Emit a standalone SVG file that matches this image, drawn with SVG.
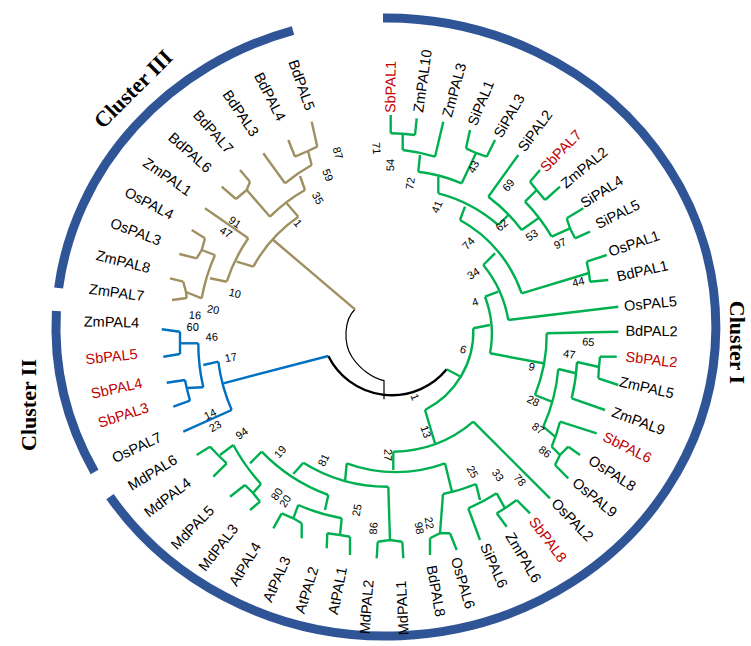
<svg xmlns="http://www.w3.org/2000/svg" width="751" height="646" viewBox="0 0 751 646">
<style>
.o{fill:none;stroke:#9e9060;stroke-width:2.4;stroke-linejoin:miter}
.b{fill:none;stroke:#0070c0;stroke-width:2.4}
.g{fill:none;stroke:#00b050;stroke-width:2.4}
.k{fill:none;stroke:#000;stroke-width:2.4}
.kt{fill:none;stroke:#000;stroke-width:1.2}
.ring{fill:none;stroke:#2f5597;stroke-width:9}
.lf{font-family:"Liberation Sans",Arial,sans-serif;font-size:14.5px;fill:#000;text-anchor:middle;dominant-baseline:central}
.r{fill:#c00000}
.bs{font-family:"Liberation Sans",Arial,sans-serif;font-size:11px;fill:#000;text-anchor:middle;dominant-baseline:central}
.cl{font-family:"Liberation Serif","Times New Roman",serif;font-size:22px;font-weight:bold;fill:#000;text-anchor:middle;dominant-baseline:central}
</style>
<rect width="751" height="646" fill="#fff"/>
<g id="rings">
<path class="ring" d="M383,18 A330 309 0 1 1 110,496.6"/>
<path class="ring" d="M56.4,311 A330 309 0 0 0 94.6,472"/>
<path class="ring" d="M58.6,288 A330 309 0 0 1 293,30.5"/>
</g>
<g id="connectors">
<path class="k" d="M328.3,356 A71 71 0 0 0 446.7,369.3"/>
<path class="kt" d="M355,309.3 C344,320 343,343 352,357 C360,369 372,378 384,380.7 L384,399.3"/>
<path class="o" d="M355,309.3 L273.3,240"/>
<path class="o" d="M298.3,216.7 A145 145 0 0 0 253.3,266.7"/>
<path class="o" d="M298.3,216.7 L286.7,203.3"/>
<path class="o" d="M305,190 A161 161 0 0 0 270,216.7"/>
<path class="o" d="M270,216.7 L246.7,190"/>
<path class="o" d="M236,199 L246.7,190 L250,181.7"/>
<path class="o" d="M221.7,186.7 L236,199"/>
<path class="o" d="M240,170 L250,181.7"/>
<path class="o" d="M305,190 L300,176"/>
<path class="o" d="M285,183.3 A178 178 0 0 1 311.7,165"/>
<path class="o" d="M263.3,153.3 L285,183.3"/>
<path class="o" d="M308,151 L311.7,165"/>
<path class="o" d="M295,156.7 L308,151 L317.3,146.7"/>
<path class="o" d="M288.3,140 L295,156.7"/>
<path class="o" d="M311.7,121.7 L317.3,146.7"/>
<path class="o" d="M253.3,266.7 L236.7,261.7"/>
<path class="o" d="M248.3,238.3 A167 167 0 0 0 226.7,281.7"/>
<path class="o" d="M205,208.3 L248.3,238.3"/>
<path class="o" d="M226.7,281.7 L210,278.3"/>
<path class="o" d="M215,255 A188 188 0 0 0 201.7,298.3"/>
<path class="o" d="M215,255 L201.7,250"/>
<path class="o" d="M205,238.3 L201.7,250 L196.7,258.3"/>
<path class="o" d="M191.7,230 L205,238.3"/>
<path class="o" d="M179.3,254 L196.7,258.3"/>
<path class="o" d="M201.7,298.3 L186,292"/>
<path class="o" d="M183.3,281.7 L186,292 L186.7,298"/>
<path class="o" d="M170,278.3 L183.3,281.7"/>
<path class="o" d="M172,300 L186.7,298"/>
<path class="b" d="M328.3,356 L223.3,383.3"/>
<path class="b" d="M218.3,361.7 A175 175 0 0 0 231.7,410"/>
<path class="b" d="M231.7,410 L183.3,431.7"/>
<path class="b" d="M218.3,361.7 L203.3,365"/>
<path class="b" d="M198.3,343.3 A192 192 0 0 0 203.3,387.3"/>
<path class="b" d="M198.3,343.3 L180,343.3"/>
<path class="b" d="M180,331.7 L180,354"/>
<path class="b" d="M161.7,329.3 L180,331.7"/>
<path class="b" d="M163.3,356.7 L180,354"/>
<path class="b" d="M203.3,387.3 L186.7,388"/>
<path class="b" d="M185,380 L186.7,388 L190,400.7"/>
<path class="b" d="M166.7,382.7 L185,380"/>
<path class="b" d="M173.3,406.7 L190,400.7"/>
<path class="g" d="M446.7,369.3 L461.7,377.3"/>
<path class="g" d="M473.3,328.3 A88 88 0 0 1 425,410"/>
<path class="g" d="M473.3,328.3 L490,325"/>
<path class="g" d="M485,296.7 A104 104 0 0 1 490,353.3"/>
<path class="g" d="M485,296.7 L498.3,291.7"/>
<path class="g" d="M483.3,265 A118 118 0 0 1 508.3,320"/>
<path class="g" d="M508.3,320 L618.3,306.7"/>
<path class="g" d="M483.3,265 L495,253.3"/>
<path class="g" d="M460,220 A133 133 0 0 1 521.7,293.3"/>
<path class="g" d="M521.7,293.3 L589,273"/>
<path class="g" d="M586.7,261.7 L589,273 L590,281.7"/>
<path class="g" d="M586.7,261.7 L606.7,255"/>
<path class="g" d="M590,281.7 L608.3,280"/>
<path class="g" d="M460,220 L465,206.7"/>
<path class="g" d="M438.3,193.3 A147 147 0 0 1 498.3,225"/>
<path class="g" d="M438.3,193.3 L438.3,176.7"/>
<path class="g" d="M418.3,171.7 A160 160 0 0 1 461.7,183.3"/>
<path class="g" d="M418.3,171.7 L420,155"/>
<path class="g" d="M402.7,150 A178 178 0 0 1 435,156.7"/>
<path class="g" d="M402.7,150 L402.7,133.7"/>
<path class="g" d="M390.7,133.3 A195 195 0 0 1 415,135"/>
<path class="g" d="M390.7,115 L390.7,133.3"/>
<path class="g" d="M416.7,118.3 L415,135"/>
<path class="g" d="M443.3,121.7 L435,156.7"/>
<path class="g" d="M461.7,183.3 L476,153"/>
<path class="g" d="M466,148.3 L476,153 L486.7,156.7"/>
<path class="g" d="M470,130 L466,148.3"/>
<path class="g" d="M495,140 L486.7,156.7"/>
<path class="g" d="M498.3,225 L508.3,215"/>
<path class="g" d="M488.3,196.7 A165 165 0 0 1 521.7,230"/>
<path class="g" d="M518.3,155 L488.3,196.7"/>
<path class="g" d="M521.7,230 L538.3,218.3"/>
<path class="g" d="M525,201.7 A187 187 0 0 1 551.7,236.7"/>
<path class="g" d="M525,201.7 L536.7,190"/>
<path class="g" d="M530,181.7 L536.7,190 L545,200"/>
<path class="g" d="M540,170 L530,181.7"/>
<path class="g" d="M560,186.7 L545,200"/>
<path class="g" d="M551.7,236.7 L570,228.3"/>
<path class="g" d="M566.7,218.3 L570,228.3 L575,238.3"/>
<path class="g" d="M583.3,208.3 L566.7,218.3"/>
<path class="g" d="M590,231.7 L575,238.3"/>
<path class="g" d="M490,353.3 L543.3,363.3"/>
<path class="g" d="M546.7,333.3 A160 160 0 0 1 535,395"/>
<path class="g" d="M546.7,333.3 L618.3,331.7"/>
<path class="g" d="M535,395 L551.7,401.7"/>
<path class="g" d="M558.3,369 A178 178 0 0 1 543.3,426.7"/>
<path class="g" d="M558.3,369 L575,373"/>
<path class="g" d="M577,362 A192 192 0 0 1 571.7,398.3"/>
<path class="g" d="M577,362 L599,367"/>
<path class="g" d="M600,356.7 L599,367 L598.3,378.3"/>
<path class="g" d="M616.7,356.7 L600,356.7"/>
<path class="g" d="M618.3,385 L598.3,378.3"/>
<path class="g" d="M605,410 L571.7,398.3"/>
<path class="g" d="M543.3,426.7 L555,436.7"/>
<path class="g" d="M560,421.7 A195 195 0 0 1 551.7,446.7"/>
<path class="g" d="M596.7,433.3 L560,421.7"/>
<path class="g" d="M551.7,446.7 L560,455"/>
<path class="g" d="M568.3,446.7 L560,455 L555,465"/>
<path class="g" d="M580,455 L568.3,446.7"/>
<path class="g" d="M568.3,478.3 L555,465"/>
<path class="g" d="M425,410 L435,443.3"/>
<path class="g" d="M393.3,451.7 A125 125 0 0 0 473.3,421.7"/>
<path class="g" d="M473.3,421.7 L550,498.3"/>
<path class="g" d="M393.3,451.7 L393.3,470"/>
<path class="g" d="M346.7,463.3 A142 142 0 0 0 445,463.3"/>
<path class="g" d="M445,463.3 L452,492"/>
<path class="g" d="M443,494 A176 176 0 0 0 476,484"/>
<path class="g" d="M443,494 L440,533.3"/>
<path class="g" d="M430,538.3 L440,533.3 L450,533.3"/>
<path class="g" d="M430,555 L430,538.3"/>
<path class="g" d="M456.7,550 L450,533.3"/>
<path class="g" d="M476,484 L480,500"/>
<path class="g" d="M468.3,508.3 A190 190 0 0 0 496.7,493.3"/>
<path class="g" d="M480,540 L468.3,508.3"/>
<path class="g" d="M496.7,493.3 L505,508.3"/>
<path class="g" d="M496.7,513.3 L505,508.3 L516.7,500"/>
<path class="g" d="M530,513.3 L516.7,500"/>
<path class="g" d="M506.7,526.7 L496.7,513.3"/>
<path class="g" d="M345,481.7 L346.7,463.3"/>
<path class="g" d="M303.3,462.7 A159 159 0 0 0 388.3,486.7"/>
<path class="g" d="M388.3,486.7 L390,540"/>
<path class="g" d="M377.7,541.7 L390,540 L402.3,541.7"/>
<path class="g" d="M376.7,558.3 L377.7,541.7"/>
<path class="g" d="M403.3,558.3 L402.3,541.7"/>
<path class="g" d="M293.3,474 L303.3,462.7"/>
<path class="g" d="M261.7,451.7 A175 175 0 0 0 328.3,495"/>
<path class="g" d="M328.3,495 L325,510"/>
<path class="g" d="M298.3,505 A197 197 0 0 0 341.7,518.3"/>
<path class="g" d="M298.3,505 L293.3,518.3"/>
<path class="g" d="M281.7,513.3 L293.3,518.3 L301.7,523.3"/>
<path class="g" d="M273.3,528.3 L281.7,513.3"/>
<path class="g" d="M301.7,538.3 L301.7,523.3"/>
<path class="g" d="M341.7,518.3 L340,535"/>
<path class="g" d="M327.3,533.3 L340,535 L350,536.7"/>
<path class="g" d="M326.7,548.3 L327.3,533.3"/>
<path class="g" d="M350,555 L350,536.7"/>
<path class="g" d="M261.7,451.7 L250,463.3"/>
<path class="g" d="M233.3,445 A197 197 0 0 0 261,484"/>
<path class="g" d="M233.3,445 L220,455"/>
<path class="g" d="M210,446.7 L218,455 L226.7,463.3"/>
<path class="g" d="M196.7,455 L210,446.7"/>
<path class="g" d="M213.3,476.7 L226.7,463.3"/>
<path class="g" d="M261,484 L253,493"/>
<path class="g" d="M245,485 L253,493 L260,501.7"/>
<path class="g" d="M230,496.7 L245,485"/>
<path class="g" d="M250,510 L260,501.7"/>
</g>
<g id="leaves">
<text class="lf r" transform="translate(390.5,87) rotate(-89.4)">SbPAL1</text>
<text class="lf" transform="translate(422.5,81) rotate(-82)">ZmPAL10</text>
<text class="lf" transform="translate(454.2,90) rotate(-74.5)">ZmPAL3</text>
<text class="lf" transform="translate(480.8,103) rotate(-67.6)">SiPAL1</text>
<text class="lf" transform="translate(509.2,115.8) rotate(-60.3)">SiPAL3</text>
<text class="lf" transform="translate(535,130.8) rotate(-53.3)">SiPAL2</text>
<text class="lf r" transform="translate(560.8,150.8) rotate(-45.7)">SbPAL7</text>
<text class="lf" transform="translate(584.2,167.5) rotate(-39.3)">ZmPAL2</text>
<text class="lf" transform="translate(601.7,191.7) rotate(-32.5)">SiPAL4</text>
<text class="lf" transform="translate(617.5,214.2) rotate(-26.4)">SiPAL5</text>
<text class="lf" transform="translate(634,243.5) rotate(-19)">OsPAL1</text>
<text class="lf" transform="translate(642.3,270.8) rotate(-12.7)">BdPAL1</text>
<text class="lf" transform="translate(650.5,303.5) rotate(-5.3)">OsPAL5</text>
<text class="lf" transform="translate(651.5,331) rotate(0.6)">BdPAL2</text>
<text class="lf r" transform="translate(651.5,359.5) rotate(6.8)">SbPAL2</text>
<text class="lf" transform="translate(646.7,387.5) rotate(13)">ZmPAL5</text>
<text class="lf" transform="translate(638.5,421) rotate(20.4)">ZmPAL9</text>
<text class="lf r" transform="translate(627.3,447.3) rotate(26.5)">SbPAL6</text>
<text class="lf" transform="translate(612.3,473.3) rotate(32.9)">OsPAL8</text>
<text class="lf" transform="translate(594.8,497.5) rotate(39.3)">OsPAL9</text>
<text class="lf" transform="translate(572.5,519.8) rotate(46.1)">OsPAL2</text>
<text class="lf r" transform="translate(548,539.5) rotate(52.9)">SbPAL8</text>
<text class="lf" transform="translate(523.5,557.5) rotate(59.4)">ZmPAL6</text>
<text class="lf" transform="translate(494,565.5) rotate(65.9)">SiPAL6</text>
<text class="lf" transform="translate(463,583) rotate(73.6)">OsPAL6</text>
<text class="lf" transform="translate(436,591) rotate(79.7)">BdPAL8</text>
<text class="lf" transform="translate(402.3,608) rotate(-92.9)">MdPAL1</text>
<text class="lf" transform="translate(366.5,607) rotate(-85.6)">MdPAL2</text>
<text class="lf" transform="translate(337.5,590.8) rotate(-79.1)">AtPAL1</text>
<text class="lf" transform="translate(306.7,590) rotate(-72.8)">AtPAL2</text>
<text class="lf" transform="translate(276.7,579.2) rotate(-66.1)">AtPAL3</text>
<text class="lf" transform="translate(245,564.2) rotate(-58.8)">AtPAL4</text>
<text class="lf" transform="translate(218.3,547.5) rotate(-52.3)">MdPAL3</text>
<text class="lf" transform="translate(192.5,527.5) rotate(-45.6)">MdPAL5</text>
<text class="lf" transform="translate(167.5,497.5) rotate(-37.6)">MdPAL4</text>
<text class="lf" transform="translate(152.5,472.5) rotate(-31.5)">MdPAL6</text>
<text class="lf" transform="translate(136.7,447.5) rotate(-25.4)">OsPAL7</text>
<text class="lf r" transform="translate(123.3,415) rotate(-18.2)">SbPAL3</text>
<text class="lf r" transform="translate(116.7,388.3) rotate(-12.5)">SbPAL4</text>
<text class="lf r" transform="translate(111.5,356.5) rotate(-5.9)">SbPAL5</text>
<text class="lf" transform="translate(111.5,322) rotate(1.2)">ZmPAL4</text>
<text class="lf" transform="translate(116.7,292.5) rotate(7.5)">ZmPAL7</text>
<text class="lf" transform="translate(123.3,261.7) rotate(14.1)">ZmPAL8</text>
<text class="lf" transform="translate(135.8,231.7) rotate(20.9)">OsPAL3</text>
<text class="lf" transform="translate(149.2,203.3) rotate(27.6)">OsPAL4</text>
<text class="lf" transform="translate(167.5,176.7) rotate(34.5)">ZmPAL1</text>
<text class="lf" transform="translate(190,152.5) rotate(41.6)">BdPAL6</text>
<text class="lf" transform="translate(213.3,131.7) rotate(48.3)">BdPAL7</text>
<text class="lf" transform="translate(240.8,113.3) rotate(55.6)">BdPAL3</text>
<text class="lf" transform="translate(270,96.7) rotate(63)">BdPAL4</text>
<text class="lf" transform="translate(301.7,85) rotate(70.4)">BdPAL5</text>
</g>
<g id="bootstrap">
<text class="bs" transform="translate(376.7,148.3) rotate(86.4)">71</text>
<text class="bs" transform="translate(390,165) rotate(-89.3)">54</text>
<text class="bs" transform="translate(410,183.3) rotate(-81)">72</text>
<text class="bs" transform="translate(436.7,206.7) rotate(-68)">41</text>
<text class="bs" transform="translate(473.3,166.7) rotate(-62)">43</text>
<text class="bs" transform="translate(508.3,185) rotate(-50)">69</text>
<text class="bs" transform="translate(501.7,225) rotate(-42)">62</text>
<text class="bs" transform="translate(531.7,235) rotate(-33)">53</text>
<text class="bs" transform="translate(560,243.3) rotate(-26)">97</text>
<text class="bs" transform="translate(468.3,243.3) rotate(-46.5)">74</text>
<text class="bs" transform="translate(473.3,273.3) rotate(-32.7)">34</text>
<text class="bs" transform="translate(475,301.7) rotate(-16.8)">4</text>
<text class="bs" transform="translate(578.3,281.7) rotate(-13.7)">44</text>
<text class="bs" transform="translate(463.3,349.3) rotate(15.8)">6</text>
<text class="bs" transform="translate(588.3,341.7) rotate(3.9)">65</text>
<text class="bs" transform="translate(569.3,354) rotate(8.2)">47</text>
<text class="bs" transform="translate(531.7,366.7) rotate(15)">9</text>
<text class="bs" transform="translate(533.3,400.7) rotate(26.6)">28</text>
<text class="bs" transform="translate(538.3,428.3) rotate(33.7)">87</text>
<text class="bs" transform="translate(545,451.7) rotate(38.2)">86</text>
<text class="bs" transform="translate(520,480) rotate(49)">78</text>
<text class="bs" transform="translate(498,475) rotate(53.2)">33</text>
<text class="bs" transform="translate(472.7,471.7) rotate(59.5)">25</text>
<text class="bs" transform="translate(429.5,523) rotate(79)">22</text>
<text class="bs" transform="translate(419.5,528) rotate(80)">98</text>
<text class="bs" transform="translate(426,431.7) rotate(69.9)">13</text>
<text class="bs" transform="translate(388.3,455) rotate(89.9)">27</text>
<text class="bs" transform="translate(415,397) rotate(68.6)">1</text>
<text class="bs" transform="translate(373.3,528.3) rotate(-85.8)">86</text>
<text class="bs" transform="translate(356.7,510) rotate(-80.2)">25</text>
<text class="bs" transform="translate(323.3,460) rotate(-63.9)">81</text>
<text class="bs" transform="translate(280,451.7) rotate(-48.9)">19</text>
<text class="bs" transform="translate(241.7,433.3) rotate(-35.7)">94</text>
<text class="bs" transform="translate(276.7,494) rotate(-56)">80</text>
<text class="bs" transform="translate(285,501) rotate(-56)">20</text>
<text class="bs" transform="translate(215,426) rotate(-29.5)">23</text>
<text class="bs" transform="translate(210,414) rotate(-25.8)">14</text>
<text class="bs" transform="translate(230.7,357.3) rotate(-10.6)">17</text>
<text class="bs" transform="translate(211.7,336.7) rotate(-2.8)">46</text>
<text class="bs" transform="translate(192.7,326.7) rotate(0.4)">60</text>
<text class="bs" transform="translate(195,315) rotate(3.9)">16</text>
<text class="bs" transform="translate(213.3,309.3) rotate(10)">20</text>
<text class="bs" transform="translate(235,293) rotate(12.9)">10</text>
<text class="bs" transform="translate(226,232) rotate(30.6)">47</text>
<text class="bs" transform="translate(235,222) rotate(34.7)">91</text>
<text class="bs" transform="translate(298,223) rotate(49.4)">1</text>
<text class="bs" transform="translate(318,198) rotate(61.7)">35</text>
<text class="bs" transform="translate(328,175) rotate(68.6)">59</text>
<text class="bs" transform="translate(338,153) rotate(74)">87</text>
</g>
<g id="clusters">
<text class="cl" transform="translate(737.5,342.5) rotate(90)">Cluster I</text>
<text class="cl" transform="translate(28,405) rotate(-90)">Cluster II</text>
<text class="cl" transform="translate(133,89) rotate(-45)">Cluster III</text>
</g>
</svg>
